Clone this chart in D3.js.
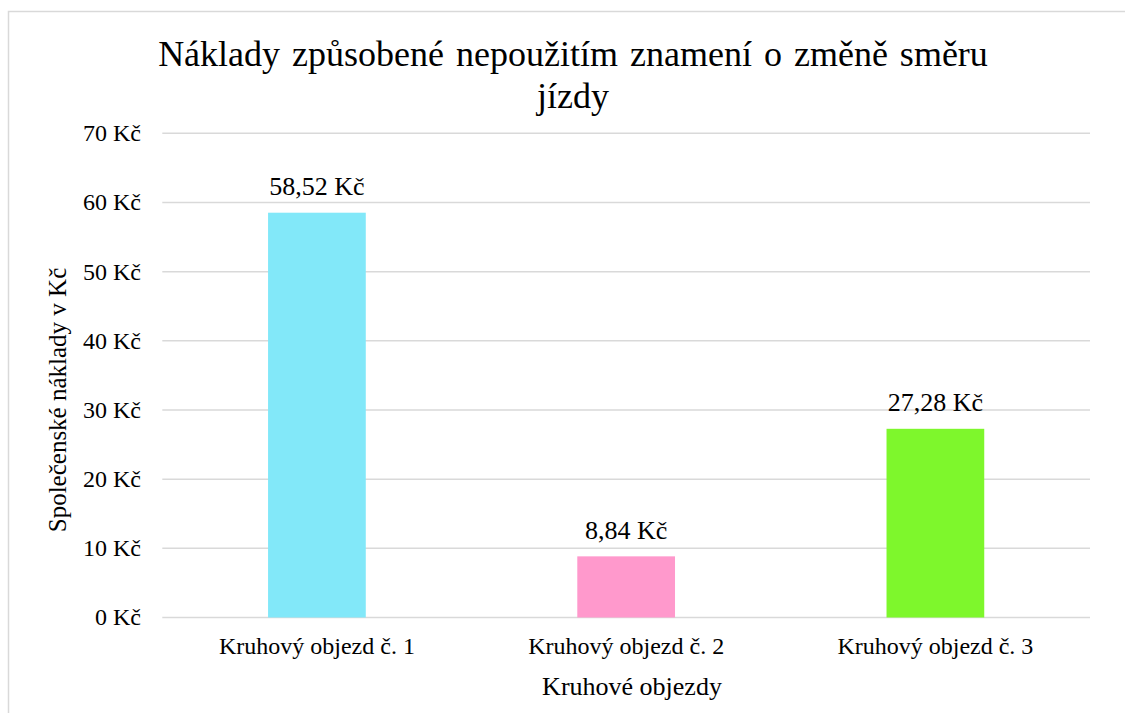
<!DOCTYPE html>
<html>
<head>
<meta charset="utf-8">
<script src="https://cdn.jsdelivr.net/npm/d3@7"></script>
<style>
  html, body { margin: 0; padding: 0; background: #fff; }
  svg { display: block; }
</style>
</head>
<body>
<svg id="chart" width="1125" height="713"></svg>
<script>
const titleText = "Náklady způsobené nepoužitím znamení o změně směru jízdy";
const yAxisTitle = "Společenské náklady v Kč";
const xAxisTitle = "Kruhové objezdy";
const categories = ["Kruhový objezd č. 1", "Kruhový objezd č. 2", "Kruhový objezd č. 3"];
const values = [58.52, 8.84, 27.28];
const valueLabels = ["58,52 Kč", "8,84 Kč", "27,28 Kč"];
const barColors = ["#82E8F9", "#FF99CC", "#7EF72C"];
const yTicks = [0, 10, 20, 30, 40, 50, 60, 70];
const yTickLabels = ["0 Kč", "10 Kč", "20 Kč", "30 Kč", "40 Kč", "50 Kč", "60 Kč", "70 Kč"];

const FONT = "Liberation Serif";

const svg = d3.select("#chart");
svg.append("rect").attr("width", 1125).attr("height", 713).attr("fill", "#fff");
svg.append("rect")
  .attr("x", 8.5).attr("y", 11.5).attr("width", 1130).attr("height", 720)
  .attr("fill", "none").attr("stroke", "#d9d9d9").attr("stroke-width", 1.5);

const plot = { left: 162.3, right: 1090, top: 133.3, bottom: 617.5 };

const y = d3.scaleLinear().domain([0, 70]).range([plot.bottom, plot.top]);
const x = d3.scaleBand().domain(categories).range([plot.left, plot.right])
  .paddingInner(0.684).paddingOuter(0.342);

// gridlines
svg.append("g").selectAll("line").data(yTicks).join("line")
  .attr("x1", plot.left).attr("x2", plot.right)
  .attr("y1", d => y(d)).attr("y2", d => y(d))
  .attr("stroke", "#d9d9d9").attr("stroke-width", 1.5);

// y axis tick labels
const yAxis = d3.axisLeft(y).tickValues(yTicks)
  .tickFormat((d, i) => yTickLabels[i]).tickSize(0).tickPadding(0);
const gy = svg.append("g").attr("transform", `translate(141,0)`).call(yAxis);
gy.attr("font-family", FONT).attr("font-size", 24);
gy.select(".domain").remove();
gy.selectAll("text").attr("font-family", FONT).attr("font-size", 24)
  .attr("fill", "#000").attr("dy", "0.31em");

// bars
svg.append("g").selectAll("rect").data(values).join("rect")
  .attr("x", (d, i) => x(categories[i]))
  .attr("width", x.bandwidth())
  .attr("y", d => y(d))
  .attr("height", d => y(0) - y(d))
  .attr("fill", (d, i) => barColors[i]);

// data labels
svg.append("g").selectAll("text").data(values).join("text")
  .attr("x", (d, i) => x(categories[i]) + x.bandwidth() / 2)
  .attr("y", d => y(d) - 17.5)
  .attr("text-anchor", "middle")
  .attr("font-family", FONT)
  .attr("font-size", 26)
  .attr("fill", "#000")
  .text((d, i) => valueLabels[i]);

// x axis category labels
const xAxis = d3.axisBottom(x).tickSize(0).tickPadding(0);
const gx = svg.append("g").attr("transform", `translate(0,${plot.bottom})`).call(xAxis);
gx.attr("font-family", FONT).attr("font-size", 24);
gx.select(".domain").remove();
gx.selectAll("text").attr("font-family", FONT).attr("font-size", 24)
  .attr("fill", "#000").attr("dy", null).attr("y", 36);

// axis titles
svg.append("text").attr("x", 632).attr("y", 695).attr("text-anchor", "middle")
  .attr("font-family", FONT).attr("font-size", 26).attr("fill", "#000").text(xAxisTitle);
svg.append("text").attr("transform", "translate(66,400) rotate(-90)")
  .attr("text-anchor", "middle").attr("font-family", FONT).attr("font-size", 25)
  .attr("fill", "#000").text(yAxisTitle);

// title with wrapping
const TITLE_SIZE = 36;
const title = svg.append("text").attr("text-anchor", "middle")
  .attr("font-family", FONT).attr("font-size", TITLE_SIZE)
  .attr("word-spacing", 3).attr("fill", "#000");
const words = titleText.split(" ");
let lines = [], cur = [];
const measure = svg.append("text").attr("font-family", FONT)
  .attr("font-size", TITLE_SIZE).attr("word-spacing", 3).attr("visibility", "hidden");
words.forEach(w => {
  const test = cur.concat([w]).join(" ");
  measure.text(test);
  if (measure.node().getComputedTextLength() > 880 && cur.length) {
    lines.push(cur.join(" ")); cur = [w];
  } else cur.push(w);
});
lines.push(cur.join(" "));
measure.remove();
lines.forEach((l, i) => {
  title.append("tspan").attr("x", 573).attr("y", 66 + i * 42).text(l);
});
</script>
</body>
</html>
